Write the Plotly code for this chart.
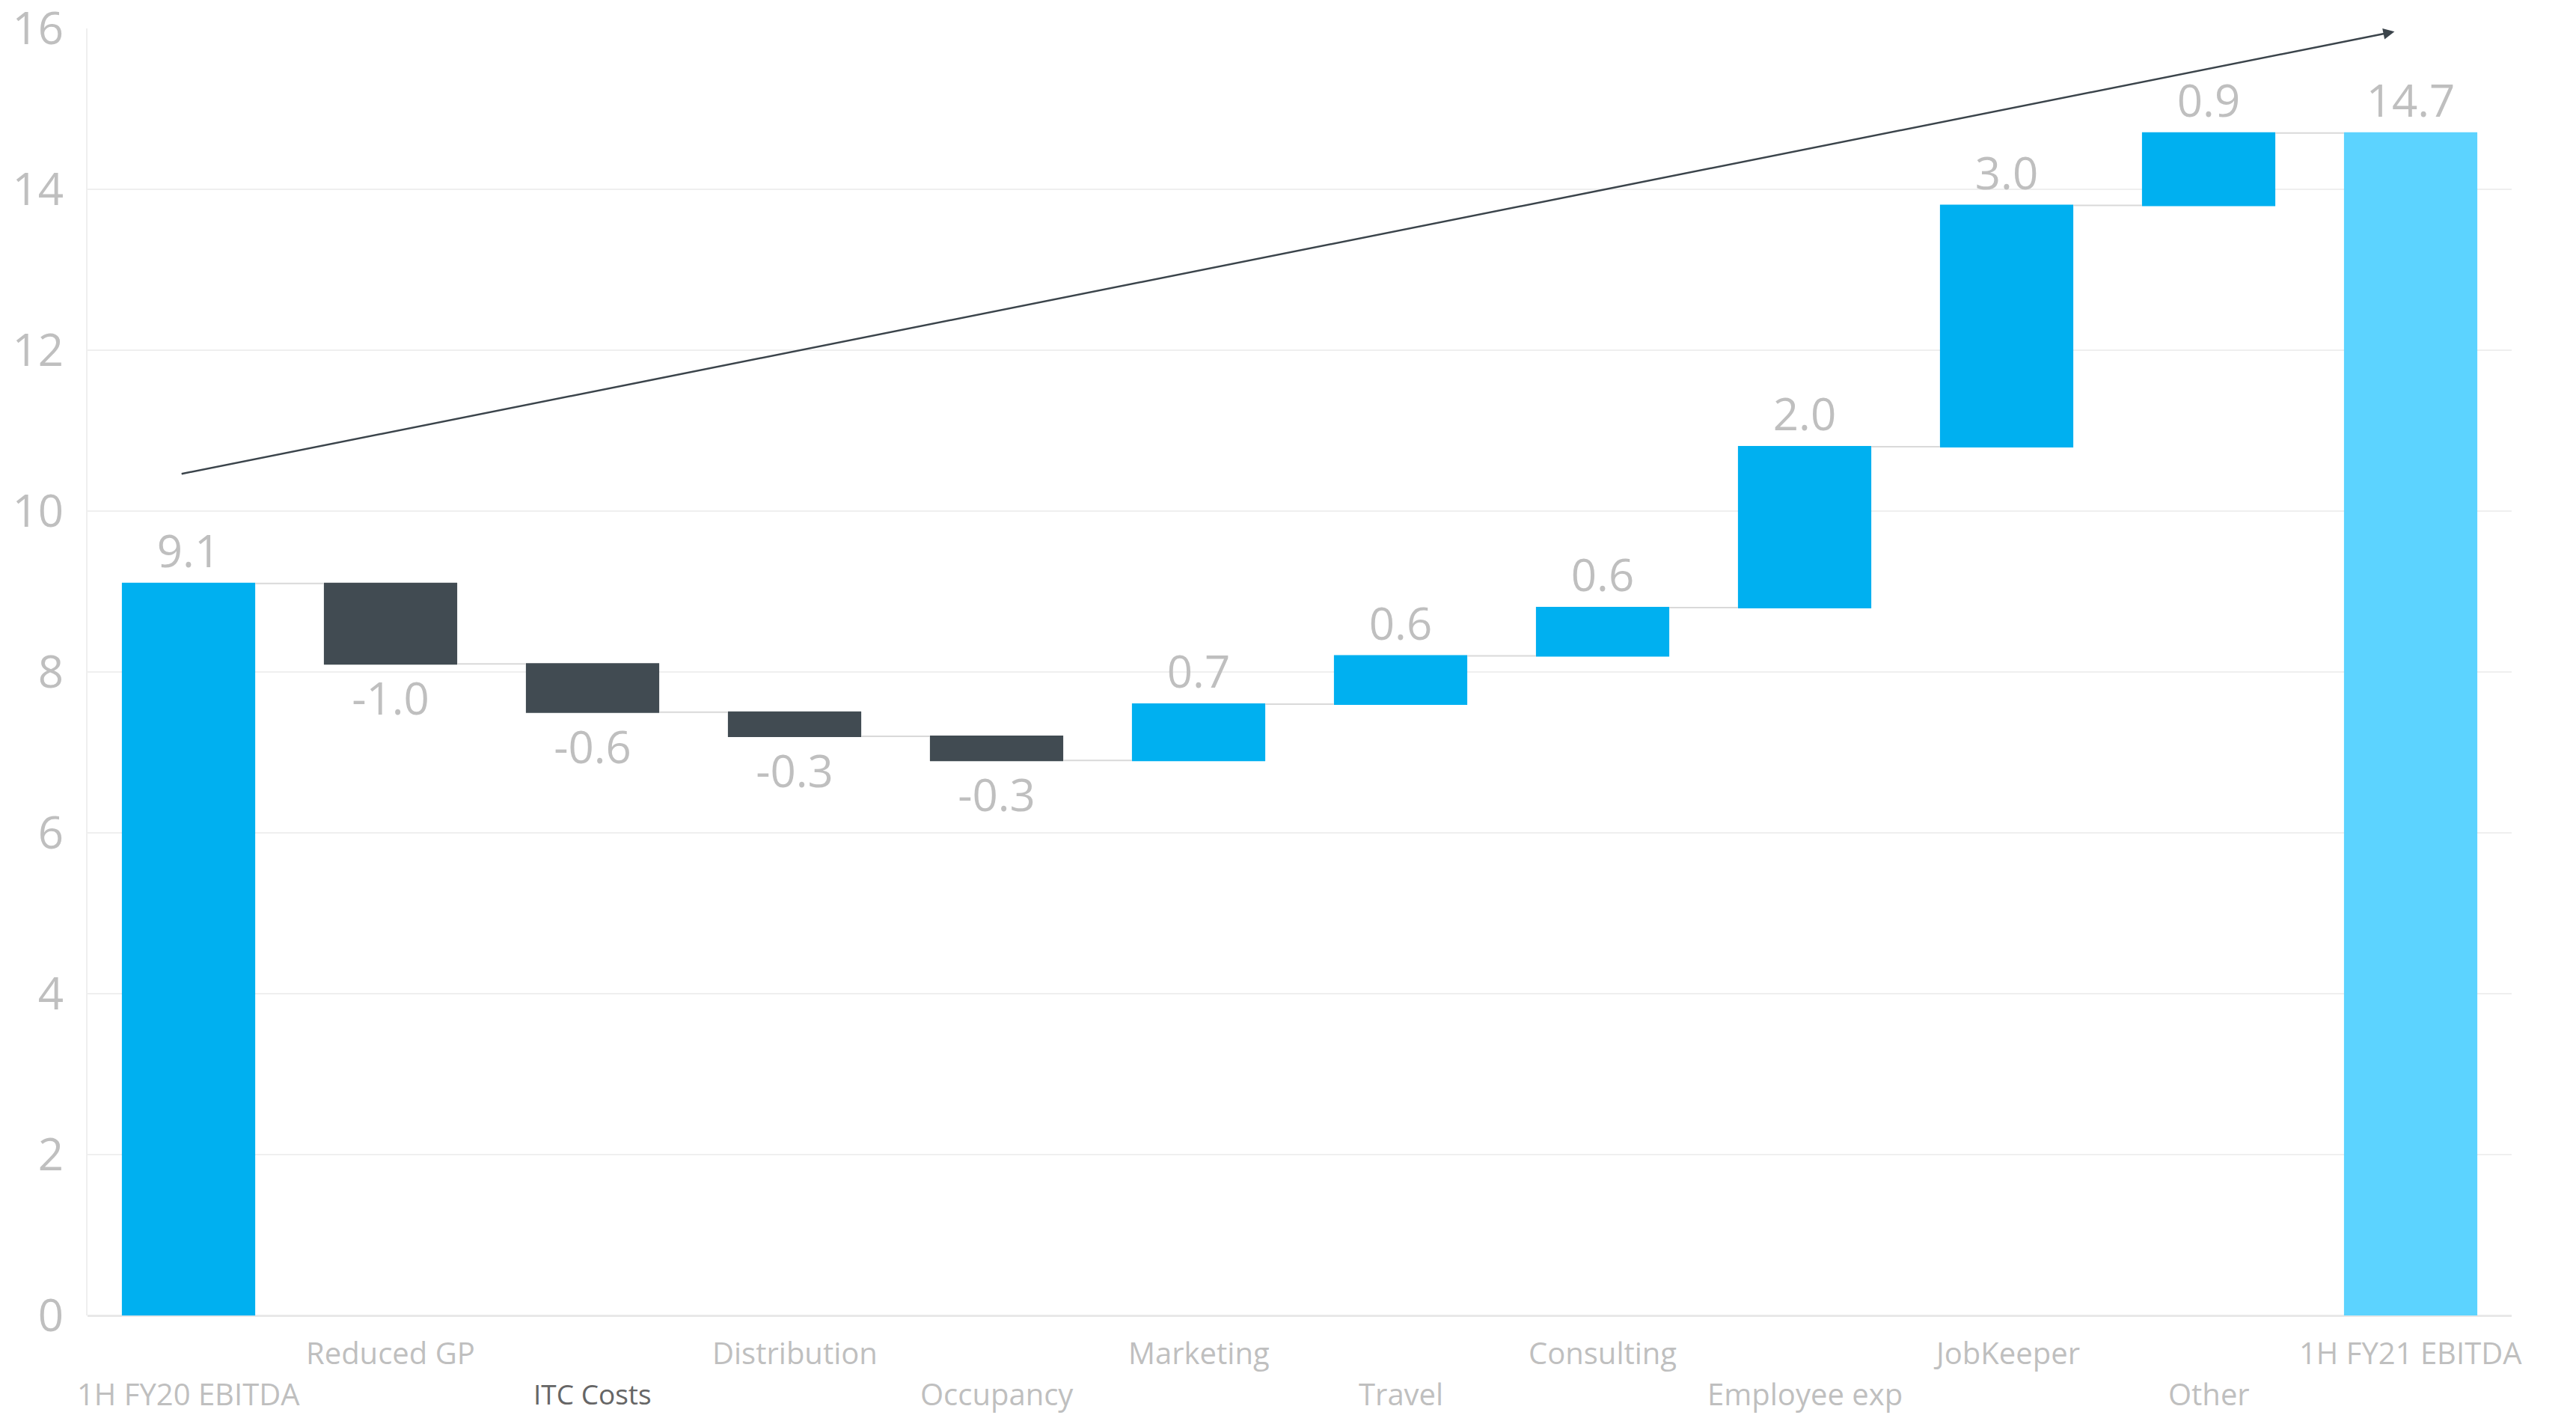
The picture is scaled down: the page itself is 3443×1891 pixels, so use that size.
import plotly.graph_objects as go

categories = ["1H FY20 EBITDA", "Reduced GP", "ITC Costs", "Distribution", "Occupancy",
              "Marketing", "Travel", "Consulting", "Employee exp", "JobKeeper", "Other",
              "1H FY21 EBITDA"]
values = [9.1, -1.0, -0.6, -0.3, -0.3, 0.7, 0.6, 0.6, 2.0, 3.0, 0.9, 14.7]
measures = ["relative"] * 11 + ["total"]
y_ticks = [0, 2, 4, 6, 8, 10, 12, 14, 16]

label_text = [f"{v:.1f}" for v in values]

fig = go.Figure()
fig.add_trace(go.Waterfall(
    x=categories,
    y=values,
    measure=measures,
    text=label_text,
    textposition="outside",
    textfont=dict(size=60, color="#bfbfbf", family="Open Sans"),
    increasing=dict(marker=dict(color="#00B0F0")),
    decreasing=dict(marker=dict(color="#414B52")),
    totals=dict(marker=dict(color="#5CD3FF")),
    connector=dict(mode="between", line=dict(color="#d9d9d9", width=2)),
    cliponaxis=False,
    showlegend=False,
    hoverinfo="skip",
))

# staggered category labels
annotations = []
for i, c in enumerate(categories):
    row_shift = -49 if i % 2 == 1 else -104
    color = "#666666" if c == "ITC Costs" else "#bfbfbf"
    size = 37 if c == "ITC Costs" else 40
    annotations.append(dict(
        x=c, y=0, xref="x", yref="y", text=c, showarrow=False,
        yanchor="middle", xanchor="center", yshift=row_shift,
        font=dict(size=size, color=color, family="Open Sans"),
    ))

# trend arrow
annotations.append(dict(
    x=10.92, y=15.96, ax=-0.04, ay=10.46, xref="x", yref="y", axref="x", ayref="y",
    text="", showarrow=True, arrowhead=2, arrowsize=1.2, arrowwidth=2.5,
    arrowcolor="#3b444b",
))

fig.update_layout(
    width=3443, height=1891,
    margin=dict(l=117, r=86, t=38, b=133),
    paper_bgcolor="white", plot_bgcolor="white",
    font=dict(family="Open Sans", color="#bfbfbf"),
    annotations=annotations,
    waterfallgap=0.34,
)
fig.update_xaxes(
    range=[-0.5, 11.5], showticklabels=False, showgrid=False,
    showline=False, zeroline=False, automargin=False,
)
fig.update_yaxes(
    range=[0, 16], tickvals=y_ticks, ticktext=[str(t) for t in y_ticks],
    tickfont=dict(size=60, color="#bfbfbf", family="Open Sans"),
    showgrid=True, gridcolor="#efefef", gridwidth=2,
    zeroline=True, zerolinecolor="#e8e8e8", zerolinewidth=3,
    showline=True, linecolor="#efefef", linewidth=2,
    ticks="", ticklabelstandoff=18, ticklabeloverflow="allow",
    automargin=False,
)

fig.write_html("out.html", config={"displayModeBar": False},
               post_script="document.body.style.margin='0';")
